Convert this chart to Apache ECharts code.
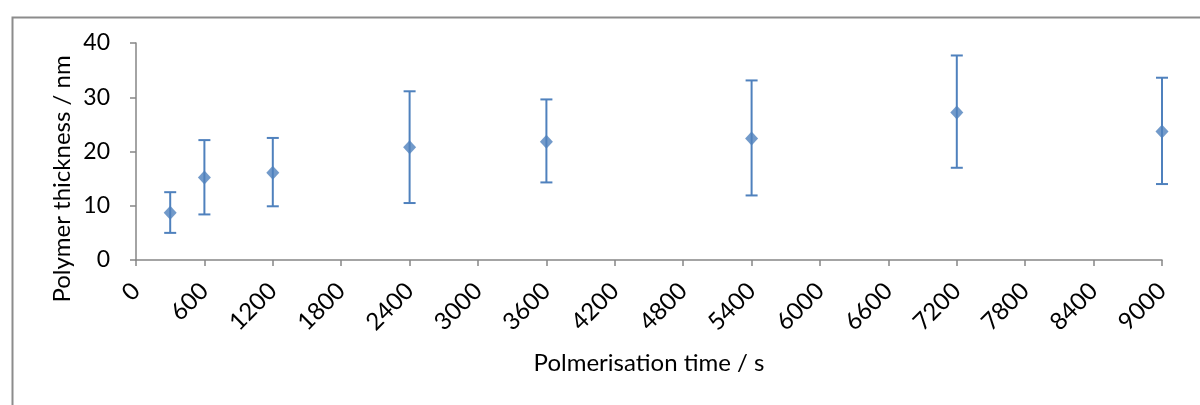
<!DOCTYPE html>
<html>
<head>
<meta charset="utf-8">
<script src="https://cdn.jsdelivr.net/npm/echarts@6/dist/echarts.min.js"></script>
<style>
  html, body { margin: 0; padding: 0; background: #ffffff; }
  #chart { width: 1200px; height: 405px; }
</style>
</head>
<body>
<div id="chart"></div>
<script>
// Polymer thickness measured at each polymerisation time, with error range
const times = [300, 600, 1200, 2400, 3600, 5400, 7200, 9000];
const thickness = [8.7, 15.2, 16.1, 20.8, 21.8, 22.4, 27.2, 23.7];
const errLow = [5.0, 8.4, 9.9, 10.5, 14.3, 11.9, 17.0, 14.0];
const errHigh = [12.5, 22.1, 22.5, 31.1, 29.6, 33.1, 37.7, 33.6];

const xTitle = 'Polmerisation time / s';
const yTitle = 'Polymer thickness / nm';

const FONT = 'Lato';
const BLUE = '#4f81bd';
const AXIS = '#868686';

const points = times.map((t, i) => [t, thickness[i]]);
const bars = times.map((t, i) => [t, errLow[i], errHigh[i]]);

const chart = echarts.init(document.getElementById('chart'), null, { renderer: 'canvas' });

chart.setOption({
  animation: false,
  backgroundColor: '#ffffff',
  grid: { left: 136, right: 38, top: 43, bottom: 145, containLabel: false },
  xAxis: {
    type: 'value',
    min: 0,
    max: 9000,
    interval: 600,
    splitLine: { show: false },
    axisLine: { show: true, lineStyle: { color: AXIS, width: 1.5 } },
    axisTick: { show: true, length: 6, lineStyle: { color: AXIS, width: 1.5 } },
    axisLabel: {
      rotate: 45,
      margin: 27,
      color: '#000000',
      fontFamily: FONT,
      fontSize: 24,
      formatter: v => String(v)
    }
  },
  yAxis: {
    type: 'value',
    min: 0,
    max: 40,
    interval: 10,
    splitLine: { show: false },
    axisLine: { show: true, lineStyle: { color: AXIS, width: 1.5 } },
    axisTick: { show: true, length: 6, lineStyle: { color: AXIS, width: 1.5 } },
    axisLabel: {
      margin: 26,
      color: '#000000',
      fontFamily: FONT,
      fontSize: 23,
      formatter: v => String(v)
    }
  },
  graphic: [
    {
      type: 'rect',
      left: 10,
      top: 15,
      shape: { width: 1220, height: 420 },
      style: { fill: 'none', stroke: '#8c8c8c', lineWidth: 2 },
      silent: true,
      z: -1
    },
    {
      type: 'text',
      x: 649,
      y: 363,
      style: {
        text: xTitle,
        fontFamily: FONT,
        fontSize: 24,
        fill: '#000000',
        align: 'center',
        verticalAlign: 'middle'
      }
    },
    {
      type: 'text',
      x: 62,
      y: 179,
      rotation: Math.PI / 2,
      style: {
        text: yTitle,
        fontFamily: FONT,
        fontSize: 24,
        fill: '#000000',
        align: 'center',
        verticalAlign: 'middle'
      }
    }
  ],
  series: [
    {
      type: 'custom',
      name: 'error',
      data: bars,
      z: 2,
      renderItem: function (params, api) {
        const x = api.value(0);
        const lo = api.coord([x, api.value(1)]);
        const hi = api.coord([x, api.value(2)]);
        const half = 6;
        const style = { stroke: BLUE, lineWidth: 2 };
        return {
          type: 'group',
          children: [
            { type: 'line', shape: { x1: lo[0], y1: lo[1], x2: hi[0], y2: hi[1] }, style: style },
            { type: 'line', shape: { x1: hi[0] - half, y1: hi[1], x2: hi[0] + half, y2: hi[1] }, style: style },
            { type: 'line', shape: { x1: lo[0] - half, y1: lo[1], x2: lo[0] + half, y2: lo[1] }, style: style }
          ]
        };
      }
    },
    {
      type: 'scatter',
      name: 'thickness',
      data: points,
      symbol: 'diamond',
      symbolSize: [13, 14],
      itemStyle: { color: BLUE },
      z: 3
    }
  ]
});
</script>
</body>
</html>
